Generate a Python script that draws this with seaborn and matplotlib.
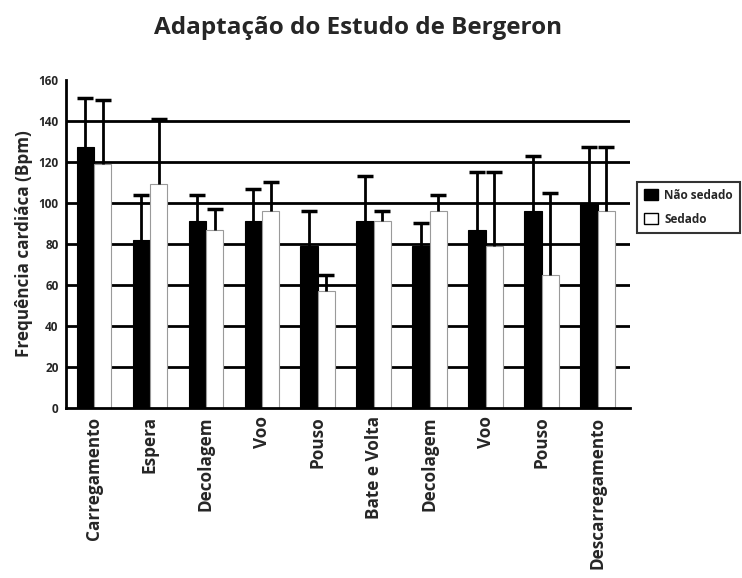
import pandas as pd
import numpy as np
from matplotlib import pyplot as plt
import seaborn as sns

# fases do voo (eixo x)
fases = ['Carregamento', 'Espera', 'Decolagem', 'Voo', 'Pouso',
         'Bate e Volta', 'Decolagem ', 'Voo ', 'Pouso ', 'Descarregamento']

# media da frequencia cardiaca (Bpm)
nao_sedado = [127, 82, 91, 91, 79, 91, 79, 87, 96, 100]
sedado = [119, 109, 87, 96, 57, 91, 96, 79, 65, 96]

# limite superior do desvio (Bpm)
nao_sedado_sup = [151, 104, 104, 107, 96, 113, 90, 115, 123, 127]
sedado_sup = [150, 141, 97, 110, 65, 96, 104, 115, 105, 127]

grupos = ['Não sedado', 'Sedado']

df = pd.DataFrame({
    'fase': fases * 2,
    'grupo': [grupos[0]] * len(fases) + [grupos[1]] * len(fases),
    'bpm': nao_sedado + sedado,
    'sup': nao_sedado_sup + sedado_sup,
})

sns.set_style('white')
plt.rcParams['font.family'] = ['Open Sans', 'DejaVu Sans']

fig = plt.figure(figsize=(7.42, 5.78), dpi=100)
ax = fig.add_axes([0.089, 0.294, 0.76, 0.568])

sns.barplot(data=df, x='fase', y='bpm', hue='grupo', order=fases,
            hue_order=grupos, palette={'Não sedado': 'black', 'Sedado': 'white'},
            width=0.62, errorbar=None, ax=ax, zorder=2)

# contornos das barras
for p in ax.patches[:len(fases)]:
    p.set_edgecolor('black')
    p.set_linewidth(0.8)
for p in ax.patches[len(fases):2 * len(fases)]:
    p.set_edgecolor('#9a9a9a')
    p.set_linewidth(0.8)

# barras de erro so para cima
for i, g in enumerate(grupos):
    sub = df[df['grupo'] == g]
    bars = ax.patches[i * len(fases):(i + 1) * len(fases)]
    xs = [b.get_x() + b.get_width() / 2 for b in bars]
    ys = sub['bpm'].values
    up = sub['sup'].values - ys
    eb = ax.errorbar(xs, ys, yerr=[np.zeros_like(up), up], fmt='none',
                     ecolor='black', elinewidth=2, capsize=6, capthick=2.5, zorder=3)
    eb[1][0].set_visible(False)  # sem traço na base

ax.set_ylim(0, 160)
ax.set_yticks(range(0, 161, 20))
ax.set_xlim(-0.5, len(fases) - 0.42)

ax.yaxis.grid(True, color='black', linewidth=2)
ax.set_axisbelow(True)
ax.get_ygridlines()[-1].set_visible(False)
ax.get_ygridlines()[0].set_visible(False)

for s in ['top', 'right']:
    ax.spines[s].set_visible(False)
for s in ['left', 'bottom']:
    ax.spines[s].set_color('black')
    ax.spines[s].set_linewidth(2)

ax.tick_params(axis='y', direction='inout', length=7, width=2, labelsize=8.5, pad=2)
ax.tick_params(axis='x', length=0, labelsize=12.3, pad=6)
for t in ax.get_yticklabels():
    t.set_fontweight('bold')
ax.set_xticks(range(len(fases)))
ax.set_xticklabels([f.strip() for f in fases], rotation=90, fontweight='bold')

ax.set_xlabel('')
ax.set_ylabel('Frequência cardiáca (Bpm)', fontsize=12.3, fontweight='bold', labelpad=4)

fig.suptitle('Adaptação do Estudo de Bergeron', x=0.483, y=0.972,
             fontsize=17.5, fontweight='bold')

leg = ax.legend(loc='upper left', bbox_to_anchor=(1.0125, 0.69), frameon=True,
                fancybox=False, edgecolor='black', fontsize=8.5,
                handlelength=1.2, handleheight=1.1, borderpad=0.6,
                labelspacing=0.95, handletextpad=0.5, borderaxespad=0)
leg.get_frame().set_linewidth(1.5)
for t in leg.get_texts():
    t.set_fontweight('bold')
for h in leg.legend_handles:
    h.set_edgecolor('black')

fig.savefig('out.png', dpi=100)
